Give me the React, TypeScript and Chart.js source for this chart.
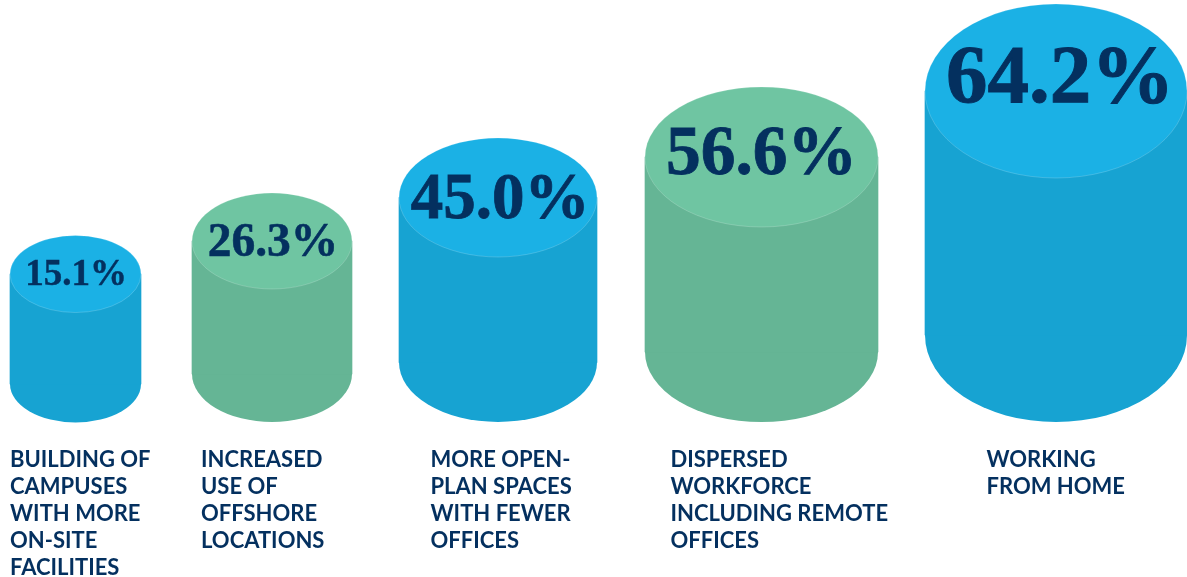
import React, { useEffect, useRef } from "react";
import { Chart, registerables } from "chart.js";

Chart.register(...registerables);

const percentLabels = ["15.1%", "26.3%", "45.0%", "56.6%", "64.2%"];
const categories = [
  ["BUILDING OF", "CAMPUSES", "WITH MORE", "ON-SITE", "FACILITIES"],
  ["INCREASED", "USE OF", "OFFSHORE", "LOCATIONS"],
  ["MORE OPEN-", "PLAN SPACES", "WITH FEWER", "OFFICES"],
  ["DISPERSED", "WORKFORCE", "INCLUDING REMOTE", "OFFICES"],
  ["WORKING", "FROM HOME"],
];
const labelStarts = [10, 201, 430.5, 670.5, 986.5];
const centers = [75.5, 272, 498, 761.5, 1056];
const widths = [131, 160, 198, 233, 262];
const tops = [303, 336, 379.5, 420, 486];
const bases = [193, 203, 214.5, 225, 242];
const depths = [38.5, 48, 59.5, 70, 87];
const bodyColors = ["#17a3d2", "#65b595", "#17a3d2", "#65b595", "#17a3d2"];
const capColors = ["#1bb1e5", "#6fc5a2", "#1bb1e5", "#6fc5a2", "#1bb1e5"];
const percentSizes = [37, 47.5, 65, 69.5, 83];
const percentOffsetX = [0.5, 1, 2, 0, 4];
const percentOffsetY = [1, 3, 4, -1, -10];

const INK = "#04305f";

function radius(chart: any, i: number) {
  const y = chart.scales.y;
  return Math.abs(y.getPixelForValue(1) - y.getPixelForValue(0)) * depths[i];
}

const cylinderPlugin = {
  id: "cylinders",
  beforeDatasetsDraw(chart: any) {
    const { ctx } = chart;
    chart.data.datasets.forEach((_: any, i: number) => {
      const bar = chart.getDatasetMeta(i).data[0];
      ctx.save();
      ctx.fillStyle = bodyColors[i];
      ctx.beginPath();
      ctx.ellipse(bar.x, bar.base, bar.width / 2, radius(chart, i), 0, 0, Math.PI * 2);
      ctx.fill();
      ctx.restore();
    });
  },
  afterDatasetsDraw(chart: any) {
    const { ctx } = chart;
    chart.data.datasets.forEach((_: any, i: number) => {
      const bar = chart.getDatasetMeta(i).data[0];
      ctx.save();
      ctx.fillStyle = capColors[i];
      ctx.strokeStyle = "rgba(255,255,255,0.3)";
      ctx.lineWidth = 0.6;
      ctx.beginPath();
      ctx.ellipse(bar.x, bar.y, bar.width / 2, radius(chart, i), 0, 0, Math.PI * 2);
      ctx.fill();
      ctx.stroke();
      ctx.fillStyle = INK;
      ctx.strokeStyle = INK;
      ctx.lineWidth = percentSizes[i] * 0.012;
      ctx.font = `bold ${percentSizes[i]}px "Liberation Serif"`;
      ctx.textAlign = "center";
      ctx.textBaseline = "middle";
      const tx = bar.x + percentOffsetX[i];
      const ty = bar.y + percentOffsetY[i];
      ctx.fillText(percentLabels[i], tx, ty);
      ctx.strokeText(percentLabels[i], tx, ty);
      ctx.restore();
    });
  },
};

export default function App() {
  const ref = useRef<HTMLCanvasElement>(null);
  useEffect(() => {
    document.body.style.margin = "0";
    const chart = new Chart(ref.current!, {
      type: "bar",
      data: {
        datasets: centers.map((x, i) => ({
          label: percentLabels[i],
          data: [{ x, y: [bases[i], tops[i]] }],
          backgroundColor: bodyColors[i],
          barThickness: widths[i],
          grouped: false,
        })) as any,
      },
      options: {
        animation: false,
        responsive: false,
        layout: { padding: 0 },
        plugins: { legend: { display: false }, tooltip: { enabled: false } },
        scales: {
          x: {
            type: "linear",
            offset: false,
            min: 0,
            max: 1187,
            grid: { display: false },
            border: { display: false },
            afterBuildTicks: (s: any) => {
              s.ticks = labelStarts.map((value) => ({ value }));
            },
            afterFit: (s: any) => {
              s.height = 145;
              s.paddingLeft = 0;
              s.paddingRight = 0;
            },
            ticks: {
              autoSkip: false,
              maxRotation: 0,
              minRotation: 0,
              align: "start",
              padding: 6,
              color: INK,
              font: { family: "Lato", weight: "bold", size: 22, lineHeight: 27 / 22 },
              callback: (value: any) => categories[labelStarts.indexOf(Number(value))],
            },
          },
          y: {
            display: false,
            min: 145,
            max: 577,
          },
        },
      },
      plugins: [cylinderPlugin],
    } as any);
    return () => chart.destroy();
  }, []);
  return <canvas ref={ref} width={1187} height={577} style={{ display: "block" }} />;
}
